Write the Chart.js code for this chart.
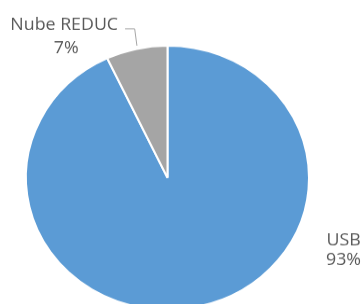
<!DOCTYPE html>
<html>
<head>
<meta charset="utf-8">
<script src="https://cdn.jsdelivr.net/npm/chart.js@4/dist/chart.umd.min.js"></script>
<style>
html,body{margin:0;padding:0;background:#fff;overflow:hidden;width:364px;height:304px;}
#wrap{position:absolute;left:0;top:0;width:364px;height:360px;transform:scaleY(0.933);transform-origin:0 0;}
</style>
</head>
<body>
<div id="wrap"><canvas id="c" width="364" height="360"></canvas></div>
<script>
const categories = ["USB", "Nube REDUC"];
const values = [93, 7];
const valueLabels = ["93%", "7%"];
const colors = ["#5B9BD5", "#A5A5A5"];

const labelPlugin = {
  id: 'labels',
  afterDatasetsDraw(chart) {
    const ctx = chart.ctx;
    const arcs = chart.getDatasetMeta(0).data;
    const a = arcs[0];
    const cx = a.x, cy = a.y, r = a.outerRadius;
    ctx.save();
    ctx.fillStyle = '#595959';
    ctx.font = '17.8px "Open Sans"';
    ctx.textAlign = 'center';
    ctx.textBaseline = 'alphabetic';
    // USB label
    ctx.fillText(categories[0], cx + r * 1.244, cy + r * 0.511);
    ctx.fillText(valueLabels[0], cx + r * 1.244, cy + r * 0.659);
    // Nube REDUC label
    ctx.fillText(categories[1], cx - r * 0.730, cy - r * 1.121);
    ctx.fillText(valueLabels[1], cx - r * 0.716, cy - r * 0.945);
    // leader line
    ctx.strokeStyle = '#A6A6A6';
    ctx.lineWidth = 1;
    ctx.beginPath();
    ctx.moveTo(cx - r * 0.300, cy - r * 1.128);
    ctx.lineTo(cx - r * 0.232, cy - r * 1.128);
    ctx.lineTo(cx - r * 0.216, cy - r * 1.0);
    ctx.stroke();
    ctx.restore();
  }
};

new Chart(document.getElementById('c'), {
  type: 'pie',
  data: {
    labels: categories,
    datasets: [{
      data: values,
      backgroundColor: colors,
      borderColor: '#ffffff',
      borderWidth: 2
    }]
  },
  options: {
    responsive: false,
    animation: false,
    layout: { padding: { left: 25, right: 54, top: 48, bottom: 27 } },
    plugins: { legend: { display: false }, tooltip: { enabled: false } }
  },
  plugins: [labelPlugin]
});
</script>
</body>
</html>
